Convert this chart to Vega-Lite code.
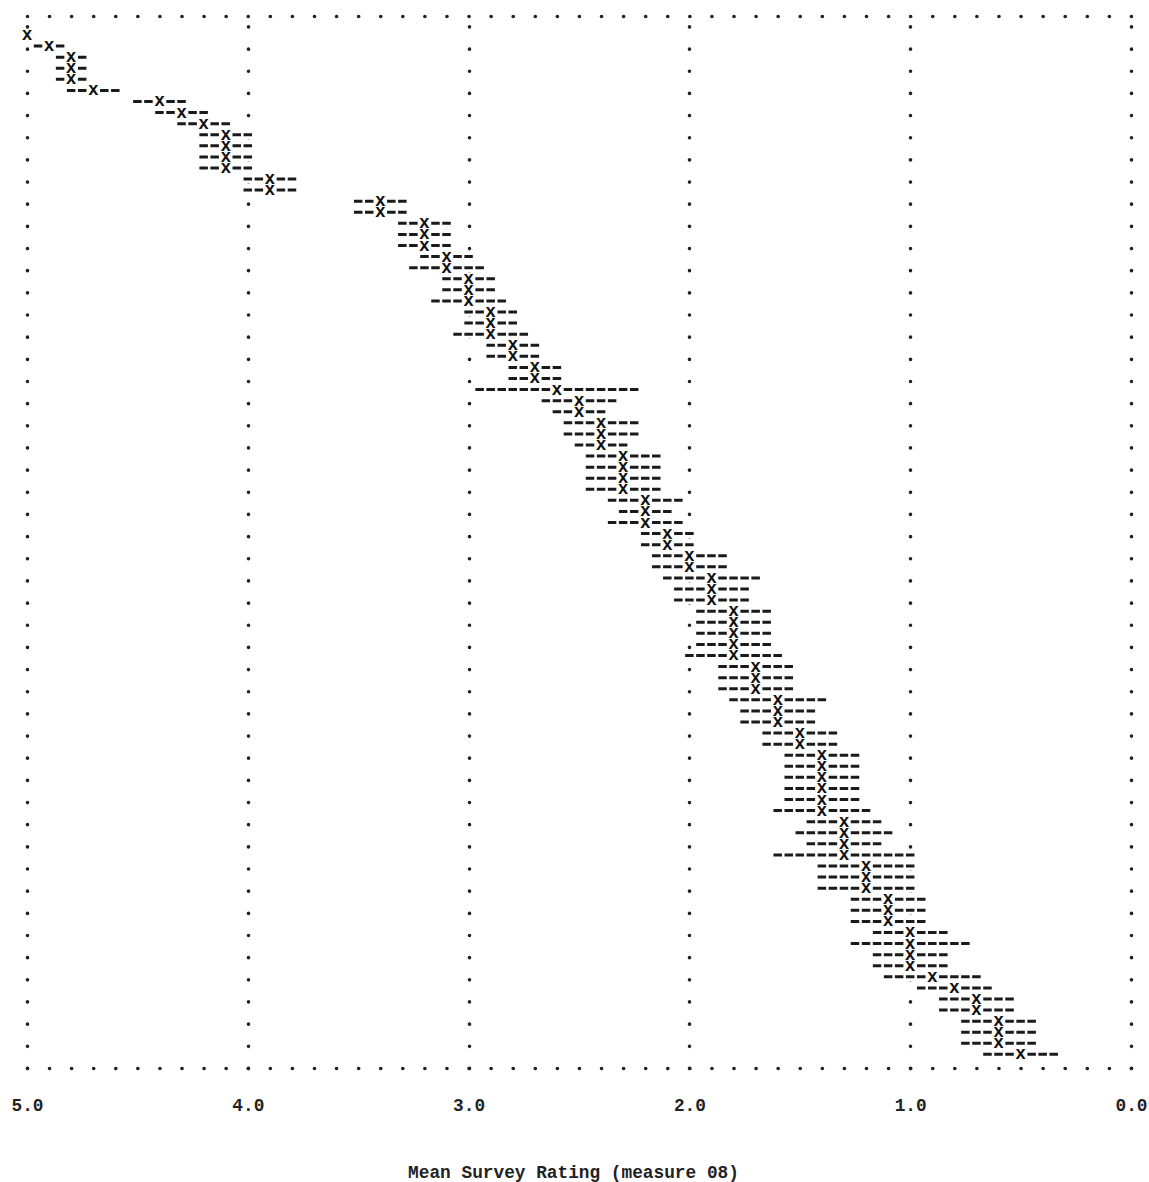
{
  "$schema": "https://vega.github.io/schema/vega-lite/v6.json",
  "width": 1104,
  "height": 1052,
  "autosize": "none",
  "padding": {"left": 27, "top": 16, "right": 18, "bottom": 114},
  "background": "white",
  "config": {"view": {"stroke": null}},
  "data": {"values": [
    {"row":1,"mean":5.0,"hi":5.0,"lo":5.0},
    {"row":2,"mean":4.9,"hi":4.975,"lo":4.825},
    {"row":3,"mean":4.8,"hi":4.875,"lo":4.725},
    {"row":4,"mean":4.8,"hi":4.875,"lo":4.725},
    {"row":5,"mean":4.8,"hi":4.875,"lo":4.725},
    {"row":6,"mean":4.7,"hi":4.825,"lo":4.575},
    {"row":7,"mean":4.4,"hi":4.525,"lo":4.275},
    {"row":8,"mean":4.3,"hi":4.425,"lo":4.175},
    {"row":9,"mean":4.2,"hi":4.325,"lo":4.075},
    {"row":10,"mean":4.1,"hi":4.225,"lo":3.975},
    {"row":11,"mean":4.1,"hi":4.225,"lo":3.975},
    {"row":12,"mean":4.1,"hi":4.225,"lo":3.975},
    {"row":13,"mean":4.1,"hi":4.225,"lo":3.975},
    {"row":14,"mean":3.9,"hi":4.025,"lo":3.775},
    {"row":15,"mean":3.9,"hi":4.025,"lo":3.775},
    {"row":16,"mean":3.4,"hi":3.525,"lo":3.275},
    {"row":17,"mean":3.4,"hi":3.525,"lo":3.275},
    {"row":18,"mean":3.2,"hi":3.325,"lo":3.075},
    {"row":19,"mean":3.2,"hi":3.325,"lo":3.075},
    {"row":20,"mean":3.2,"hi":3.325,"lo":3.075},
    {"row":21,"mean":3.1,"hi":3.225,"lo":2.975},
    {"row":22,"mean":3.1,"hi":3.275,"lo":2.925},
    {"row":23,"mean":3.0,"hi":3.125,"lo":2.875},
    {"row":24,"mean":3.0,"hi":3.125,"lo":2.875},
    {"row":25,"mean":3.0,"hi":3.175,"lo":2.825},
    {"row":26,"mean":2.9,"hi":3.025,"lo":2.775},
    {"row":27,"mean":2.9,"hi":3.025,"lo":2.775},
    {"row":28,"mean":2.9,"hi":3.075,"lo":2.725},
    {"row":29,"mean":2.8,"hi":2.925,"lo":2.675},
    {"row":30,"mean":2.8,"hi":2.925,"lo":2.675},
    {"row":31,"mean":2.7,"hi":2.825,"lo":2.575},
    {"row":32,"mean":2.7,"hi":2.825,"lo":2.575},
    {"row":33,"mean":2.6,"hi":2.975,"lo":2.225},
    {"row":34,"mean":2.5,"hi":2.675,"lo":2.325},
    {"row":35,"mean":2.5,"hi":2.625,"lo":2.375},
    {"row":36,"mean":2.4,"hi":2.575,"lo":2.225},
    {"row":37,"mean":2.4,"hi":2.575,"lo":2.225},
    {"row":38,"mean":2.4,"hi":2.525,"lo":2.275},
    {"row":39,"mean":2.3,"hi":2.475,"lo":2.125},
    {"row":40,"mean":2.3,"hi":2.475,"lo":2.125},
    {"row":41,"mean":2.3,"hi":2.475,"lo":2.125},
    {"row":42,"mean":2.3,"hi":2.475,"lo":2.125},
    {"row":43,"mean":2.2,"hi":2.375,"lo":2.025},
    {"row":44,"mean":2.2,"hi":2.325,"lo":2.075},
    {"row":45,"mean":2.2,"hi":2.375,"lo":2.025},
    {"row":46,"mean":2.1,"hi":2.225,"lo":1.975},
    {"row":47,"mean":2.1,"hi":2.225,"lo":1.975},
    {"row":48,"mean":2.0,"hi":2.175,"lo":1.825},
    {"row":49,"mean":2.0,"hi":2.175,"lo":1.825},
    {"row":50,"mean":1.9,"hi":2.125,"lo":1.675},
    {"row":51,"mean":1.9,"hi":2.075,"lo":1.725},
    {"row":52,"mean":1.9,"hi":2.075,"lo":1.725},
    {"row":53,"mean":1.8,"hi":1.975,"lo":1.625},
    {"row":54,"mean":1.8,"hi":1.975,"lo":1.625},
    {"row":55,"mean":1.8,"hi":1.975,"lo":1.625},
    {"row":56,"mean":1.8,"hi":1.975,"lo":1.625},
    {"row":57,"mean":1.8,"hi":2.025,"lo":1.575},
    {"row":58,"mean":1.7,"hi":1.875,"lo":1.525},
    {"row":59,"mean":1.7,"hi":1.875,"lo":1.525},
    {"row":60,"mean":1.7,"hi":1.875,"lo":1.525},
    {"row":61,"mean":1.6,"hi":1.825,"lo":1.375},
    {"row":62,"mean":1.6,"hi":1.775,"lo":1.425},
    {"row":63,"mean":1.6,"hi":1.775,"lo":1.425},
    {"row":64,"mean":1.5,"hi":1.675,"lo":1.325},
    {"row":65,"mean":1.5,"hi":1.675,"lo":1.325},
    {"row":66,"mean":1.4,"hi":1.575,"lo":1.225},
    {"row":67,"mean":1.4,"hi":1.575,"lo":1.225},
    {"row":68,"mean":1.4,"hi":1.575,"lo":1.225},
    {"row":69,"mean":1.4,"hi":1.575,"lo":1.225},
    {"row":70,"mean":1.4,"hi":1.575,"lo":1.225},
    {"row":71,"mean":1.4,"hi":1.625,"lo":1.175},
    {"row":72,"mean":1.3,"hi":1.475,"lo":1.125},
    {"row":73,"mean":1.3,"hi":1.525,"lo":1.075},
    {"row":74,"mean":1.3,"hi":1.475,"lo":1.125},
    {"row":75,"mean":1.3,"hi":1.625,"lo":0.975},
    {"row":76,"mean":1.2,"hi":1.425,"lo":0.975},
    {"row":77,"mean":1.2,"hi":1.425,"lo":0.975},
    {"row":78,"mean":1.2,"hi":1.425,"lo":0.975},
    {"row":79,"mean":1.1,"hi":1.275,"lo":0.925},
    {"row":80,"mean":1.1,"hi":1.275,"lo":0.925},
    {"row":81,"mean":1.1,"hi":1.275,"lo":0.925},
    {"row":82,"mean":1.0,"hi":1.175,"lo":0.825},
    {"row":83,"mean":1.0,"hi":1.275,"lo":0.725},
    {"row":84,"mean":1.0,"hi":1.175,"lo":0.825},
    {"row":85,"mean":1.0,"hi":1.175,"lo":0.825},
    {"row":86,"mean":0.9,"hi":1.125,"lo":0.675},
    {"row":87,"mean":0.8,"hi":0.975,"lo":0.625},
    {"row":88,"mean":0.7,"hi":0.875,"lo":0.525},
    {"row":89,"mean":0.7,"hi":0.875,"lo":0.525},
    {"row":90,"mean":0.6,"hi":0.775,"lo":0.425},
    {"row":91,"mean":0.6,"hi":0.775,"lo":0.425},
    {"row":92,"mean":0.6,"hi":0.775,"lo":0.425},
    {"row":93,"mean":0.5,"hi":0.675,"lo":0.325}
  ]},
  "encoding": {
    "y": {
      "field": "row", "type": "quantitative",
      "scale": {"domain": [-0.715, 94.23], "reverse": true, "nice": false, "zero": false},
      "axis": {
        "values": [-0.715, 94.23],
        "labels": false, "ticks": false, "tickSize": 0, "domain": false, "title": null,
        "grid": true, "gridColor": "#222", "gridWidth": 3.6, "gridCap": "round",
        "gridDash": [0.1, 21.98]
      }
    }
  },
  "layer": [
    {
      "mark": {"type": "rule", "color": "white", "strokeWidth": 9},
      "encoding": {
        "x": {
          "field": "hi", "type": "quantitative",
          "scale": {"domain": [0, 5], "reverse": true, "nice": false, "zero": false},
          "axis": {
            "values": [5, 4, 3, 2, 1, 0], "format": ".1f",
            "labelFont": "Liberation Mono", "labelFontWeight": "bold", "labelFontSize": 17.8,
            "labelColor": "#222", "labelPadding": 37, "labelBaseline": "middle",
            "labelFlush": false, "labelOverlap": false,
            "ticks": false, "tickSize": 0, "domain": false,
            "grid": true, "gridColor": "#222", "gridWidth": 3.6, "gridCap": "round",
            "gridDash": [0.1, 22.06],
            "title": "Mean Survey Rating (measure 08)",
            "titleFont": "Liberation Mono", "titleFontWeight": "bold", "titleFontSize": 17.8,
            "titleColor": "#222", "titleBaseline": "alphabetic", "titleX": 546, "titleY": 109
          }
        },
        "x2": {"field": "lo"}
      }
    },
    {
      "mark": {"type": "rule", "color": "#1a1a1a", "strokeWidth": 3, "strokeDash": [8.5, 2.54], "strokeDashOffset": 9.77},
      "encoding": {
        "x": {"field": "hi", "type": "quantitative"},
        "x2": {"field": "lo"}
      }
    },
    {
      "mark": {"type": "point", "shape": "square", "filled": true, "color": "white", "opacity": 1, "size": 121, "strokeWidth": 0},
      "encoding": {
        "x": {"field": "mean", "type": "quantitative"}
      }
    },
    {
      "mark": {"type": "text", "text": "x", "font": "Liberation Mono", "fontWeight": "bold", "fontSize": 17.8, "color": "#111", "align": "center", "baseline": "middle"},
      "encoding": {
        "x": {"field": "mean", "type": "quantitative"}
      }
    }
  ]
}
